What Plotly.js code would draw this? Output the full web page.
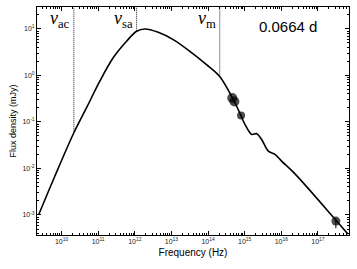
<!DOCTYPE html>
<html><head><meta charset="utf-8">
<script src="https://cdn.plot.ly/plotly-3.0.1.min.js"></script>
<style>html,body{margin:0;padding:0;background:#fff}#chart{width:357px;height:269px}</style>
</head><body><div id="chart"></div>
<script>
// Model spectrum (frequency Hz, flux density mJy)
var modelFreq = [2.4e9, 6.6e9, 2.17e10, 4.82e10, 1.11e11, 2.57e11, 5.97e11, 1.12e12, 1.9e12, 4.37e12, 1.12e13, 3.2e13, 9.1e13, 2.09e14, 4.89e14, 7.9e14, 1.02e15, 1.55e15, 2.14e15, 2.91e15, 4.42e15, 6.73e15, 1.02e16, 2.34e16, 2.95e17, 6.6e17];
var modelFlux = [1.035e-3, 6.9e-3, 0.0586, 0.202, 0.752, 2.39, 5.42, 8.88, 9.95, 8.45, 5.89, 3.30, 1.71, 0.95, 0.304, 0.138, 0.0883, 0.054, 0.0558, 0.042, 0.0236, 0.0201, 0.0144, 7.73e-3, 8.1e-4, 3.9e-4];
// Observed points
var obsFreq = [4.6e14, 5.25e14, 8.0e14, 3.1e17];
var obsFlux = [0.327, 0.275, 0.138, 7.4e-4];
var obsErrPlus = [0, 0, 0, 1.0e-4];
var obsErrMinus = [0, 0, 0, 2.2e-4];
var obsSize = [10, 10, 8, 9];
// Break frequencies
var breakNames = ['<i>ν</i><sub>ac</sub>', '<i>ν</i><sub>sa</sub>', '<i>ν</i><sub>m</sub>'];
var breakFreq = [2.17e10, 1.12e12, 2.09e14];
var breakFluxLow = [0.0586, 8.88, 0.95];
var fluxTop = 29.5;
var epochLabel = '0.0664 d';
var xTickVals = [1e10, 1e11, 1e12, 1e13, 1e14, 1e15, 1e16, 1e17];
var xTickText = ['10<sup>10</sup>', '10<sup>11</sup>', '10<sup>12</sup>', '10<sup>13</sup>', '10<sup>14</sup>', '10<sup>15</sup>', '10<sup>16</sup>', '10<sup>17</sup>'];
var yTickVals = [1e-3, 1e-2, 1e-1, 1, 10];
var yTickText = ['10<sup>-3</sup>', '10<sup>-2</sup>', '10<sup>-1</sup>', '10<sup>0</sup>', '10<sup>1</sup>'];

var traces = [];
for (var i = 0; i < breakFreq.length; i++) {
  traces.push({x: [breakFreq[i], breakFreq[i]], y: [breakFluxLow[i], fluxTop], mode: 'lines',
    line: {color: '#222', width: 1, dash: '1px,1px'}, hoverinfo: 'skip', showlegend: false});
}
traces.push({x: modelFreq, y: modelFlux, mode: 'lines', line: {color: '#000', width: 1.6, shape: 'spline', smoothing: 0.9}, showlegend: false});
traces.push({x: obsFreq, y: obsFlux, mode: 'markers', marker: {color: '#000', size: obsSize, line: {width: 0}},
  error_y: {type: 'data', symmetric: false, array: obsErrPlus, arrayminus: obsErrMinus, color: '#000', thickness: 1, width: 0}, showlegend: false});

var annotations = [];
for (var j = 0; j < breakFreq.length; j++) {
  annotations.push({x: Math.log10(breakFreq[j]), xref: 'x', y: 0.945, yref: 'paper', text: breakNames[j],
    showarrow: false, xanchor: 'right', yanchor: 'middle', xshift: -2,
    font: {family: 'Liberation Serif, serif', size: 18, color: '#000'}});
}
annotations.push({x: 0.805, xref: 'paper', y: 0.915, yref: 'paper', text: epochLabel, showarrow: false,
  xanchor: 'center', yanchor: 'middle', font: {family: 'Liberation Sans, Arial, sans-serif', size: 15, color: '#000'}});

var axisCommon = {type: 'log', showline: true, linecolor: '#000', linewidth: 1, mirror: 'allticks',
  ticks: 'inside', ticklen: 4, tickcolor: '#000', showgrid: false, zeroline: false, tickmode: 'array',
  tickfont: {family: 'Liberation Sans, Arial, sans-serif', size: 7, color: '#222'},
  minor: {ticks: 'inside', ticklen: 2, tickcolor: '#000', dtick: 'D1', showgrid: false}};

var layout = {
  width: 357, height: 269, margin: {l: 37, r: 8, t: 7, b: 34},
  paper_bgcolor: '#fff', plot_bgcolor: '#fff', showlegend: false,
  xaxis: Object.assign({}, axisCommon, {range: [9.33, 17.85], tickvals: xTickVals, ticktext: xTickText,
    title: {text: 'Frequency (Hz)', font: {family: 'Liberation Sans, Arial, sans-serif', size: 10, color: '#000'}, standoff: 4}}),
  yaxis: Object.assign({}, axisCommon, {range: [-3.43, 1.47], tickvals: yTickVals, ticktext: yTickText,
    title: {text: 'Flux density (mJy)', font: {family: 'Liberation Sans, Arial, sans-serif', size: 9, color: '#000'}, standoff: 4}}),
  annotations: annotations
};
Plotly.newPlot('chart', traces, layout, {displayModeBar: false, staticPlot: true});
</script></body></html>
